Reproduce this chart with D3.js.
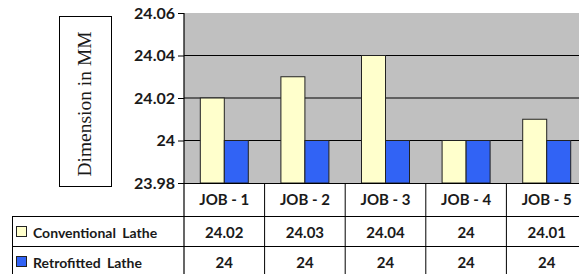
<!DOCTYPE html>
<html>
<head>
<meta charset="utf-8">
<script src="https://cdn.jsdelivr.net/npm/d3@7"></script>
<style>
  body { margin: 0; background: #fff; }
  svg { display: block; }
  text { font-family: Lato, "Open Sans", sans-serif; font-weight: bold; fill: #1a1a1a; }
</style>
</head>
<body>
<svg id="chart" width="579" height="274"></svg>
<script>
// data
var jobs = ["JOB - 1", "JOB - 2", "JOB - 3", "JOB - 4", "JOB - 5"];
var seriesNames = ["Conventional Lathe", "Retrofitted Lathe"];
var conventional = [24.02, 24.03, 24.04, 24, 24.01];
var retrofitted = [24, 24, 24, 24, 24];
var yTicks = [23.98, 24, 24.02, 24.04, 24.06];
var colors = ["#ffffcc", "#3163f5"];

var svg = d3.select("#chart");
var pLeft = 184, pRight = 587, pTop = 13, pBottom = 183;
var row1 = 216, row2 = 246, tableBottom = 276, tableLeft = 12;

var x = d3.scaleBand().domain(jobs).range([pLeft, pRight]);
var inner = d3.scaleBand().domain(seriesNames).range([16.3, 64.3]);
var y = d3.scaleLinear().domain([23.98, 24.06]).range([pBottom, pTop]);

// plot background
svg.append("rect").attr("x", pLeft).attr("y", pTop)
  .attr("width", pRight - pLeft).attr("height", pBottom - pTop).attr("fill", "#c0c0c0");

// gridlines
svg.append("g").selectAll("line").data(yTicks.filter(d => d > 23.98 && d < 24.06)).enter().append("line")
  .attr("x1", pLeft).attr("x2", pRight)
  .attr("y1", d => y(d)).attr("y2", d => y(d))
  .attr("stroke", "#000").attr("stroke-width", 1.2);

// bars
var series = [conventional, retrofitted];
var g = svg.append("g");
seriesNames.forEach(function(name, si) {
  g.selectAll(".b" + si).data(series[si]).enter().append("rect")
    .attr("x", (d, i) => x(jobs[i]) + inner(name))
    .attr("width", inner.bandwidth())
    .attr("y", d => y(d))
    .attr("height", d => y(23.98) - y(d))
    .attr("fill", colors[si])
    .attr("stroke", "#222").attr("stroke-width", 1);
});

// y axis
var yAxis = d3.axisLeft(y).tickValues(yTicks).tickSize(6).tickPadding(3)
  .tickFormat(d => String(+d.toFixed(2)));
var ya = svg.append("g").attr("transform", "translate(" + pLeft + ",0)").call(yAxis);
ya.select(".domain").remove();
ya.selectAll("line").attr("stroke", "#000");
ya.selectAll("text").style("font-size", "16px").attr("fill", "#1a1a1a");
svg.append("line").attr("x1", pLeft).attr("x2", pLeft).attr("y1", pTop).attr("y2", tableBottom)
  .attr("stroke", "#000").attr("stroke-width", 1.2);

// y title box
svg.append("rect").attr("x", 59.5).attr("y", 16.5).attr("width", 52).attr("height", 170)
  .attr("fill", "#fff").attr("stroke", "#000").attr("stroke-width", 1);
svg.append("text").attr("transform", "translate(91,104) rotate(-90)")
  .attr("text-anchor", "middle")
  .style("font-family", "'Liberation Serif', 'DejaVu Serif', serif")
  .style("font-weight", "normal").style("font-size", "19.5px")
  .text("Dimension in MM");

// data table
var t = svg.append("g");
t.selectAll(".vline").data(jobs).enter().append("line")
  .attr("x1", d => x(d) + x.bandwidth()).attr("x2", d => x(d) + x.bandwidth())
  .attr("y1", pBottom).attr("y2", tableBottom).attr("stroke", "#000");
[row1, row2].forEach(function(yy) {
  t.append("line").attr("x1", tableLeft).attr("x2", pRight).attr("y1", yy + 0.5).attr("y2", yy + 0.5).attr("stroke", "#000");
});
t.append("line").attr("x1", pLeft).attr("x2", pRight).attr("y1", pBottom + 0.5).attr("y2", pBottom + 0.5).attr("stroke", "#000");
t.append("line").attr("x1", tableLeft + 0.5).attr("x2", tableLeft + 0.5).attr("y1", row1).attr("y2", tableBottom).attr("stroke", "#000");

t.selectAll(".hdr").data(jobs).enter().append("text")
  .attr("x", d => x(d) + x.bandwidth() / 2).attr("y", 205)
  .attr("text-anchor", "middle").style("font-size", "15px").text(d => d);

var rowY = [238, 268];
series.forEach(function(vals, si) {
  t.selectAll(".v" + si).data(vals).enter().append("text")
    .attr("x", (d, i) => x(jobs[i]) + x.bandwidth() / 2).attr("y", rowY[si])
    .attr("text-anchor", "middle").style("font-size", "15px").text(d => d);
  t.append("rect").attr("x", 16.5).attr("y", rowY[si] - 11.5).attr("width", 10).attr("height", 10)
    .attr("fill", colors[si]).attr("stroke", "#222");
  t.append("text").attr("x", 33).attr("y", rowY[si])
    .style("font-size", "14px").style("word-spacing", "3px").text(seriesNames[si]);
});
</script>
</body>
</html>
